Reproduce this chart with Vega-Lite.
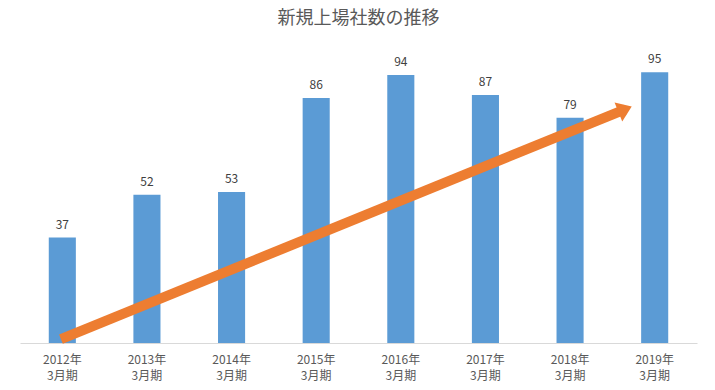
{
  "$schema": "https://vega.github.io/schema/vega-lite/v6.json",
  "width": 677,
  "height": 285,
  "autosize": {"type": "none"},
  "padding": {"left": 20, "top": 58, "right": 18, "bottom": 47},
  "background": "white",
  "title": {
    "text": "新規上場社数の推移",
    "fontSize": 18,
    "font": "Noto Sans CJK JP",
    "color": "#595959",
    "fontWeight": "normal",
    "anchor": "middle",
    "offset": 25
  },
  "config": {"view": {"stroke": null}, "font": "Noto Sans CJK JP"},
  "datasets": {
    "bars": [
      {"period": "2012年3月期", "count": 37},
      {"period": "2013年3月期", "count": 52},
      {"period": "2014年3月期", "count": 53},
      {"period": "2015年3月期", "count": 86},
      {"period": "2016年3月期", "count": 94},
      {"period": "2017年3月期", "count": 87},
      {"period": "2018年3月期", "count": 79},
      {"period": "2019年3月期", "count": 95}
    ],
    "arrow": [
      {"x": -0.016, "y": 1.4, "x2": 6.65, "y2": 82.0}
    ]
  },
  "layer": [
    {
      "data": {"name": "bars"},
      "encoding": {
        "x": {
          "field": "period",
          "type": "nominal",
          "sort": null,
          "scale": {"paddingInner": 0.68, "paddingOuter": 0.34},
          "axis": {
            "title": null,
            "labelAngle": 0,
            "ticks": false,
            "domainColor": "#D9D9D9",
            "domainWidth": 1,
            "labelColor": "#595959",
            "labelFontSize": 12,
            "labelPadding": 11,
            "labelLineHeight": 16,
            "labelExpr": "[slice(datum.label,0,5), slice(datum.label,5)]"
          }
        },
        "y": {
          "field": "count",
          "type": "quantitative",
          "scale": {"domain": [0, 100]},
          "axis": null
        }
      },
      "layer": [
        {"mark": {"type": "bar", "color": "#5B9BD5"}},
        {
          "mark": {
            "type": "text",
            "baseline": "bottom",
            "dy": -6,
            "fontSize": 12,
            "color": "#404040"
          },
          "encoding": {"text": {"field": "count", "type": "quantitative"}}
        }
      ]
    },
    {
      "data": {"name": "arrow"},
      "layer": [
        {
          "mark": {"type": "rule", "color": "#ED7D31", "strokeWidth": 10, "strokeCap": "butt"},
          "encoding": {
            "x": {"field": "x", "type": "quantitative", "scale": {"domain": [-0.5, 7.5]}, "axis": null},
            "x2": {"field": "x2"},
            "y": {"field": "y", "type": "quantitative", "scale": {"domain": [0, 100]}, "axis": null},
            "y2": {"field": "y2"}
          }
        },
        {
          "mark": {
            "type": "point",
            "shape": "M -0.7,-1 L 0.7,0 L -0.7,1 Z",
            "filled": true,
            "color": "#ED7D31",
            "opacity": 1,
            "size": 420,
            "angle": 338
          },
          "encoding": {
            "x": {"field": "x2", "type": "quantitative", "scale": {"domain": [-0.5, 7.5]}, "axis": null},
            "y": {"field": "y2", "type": "quantitative", "scale": {"domain": [0, 100]}, "axis": null}
          }
        }
      ]
    }
  ],
  "resolve": {"scale": {"x": "independent"}}
}
